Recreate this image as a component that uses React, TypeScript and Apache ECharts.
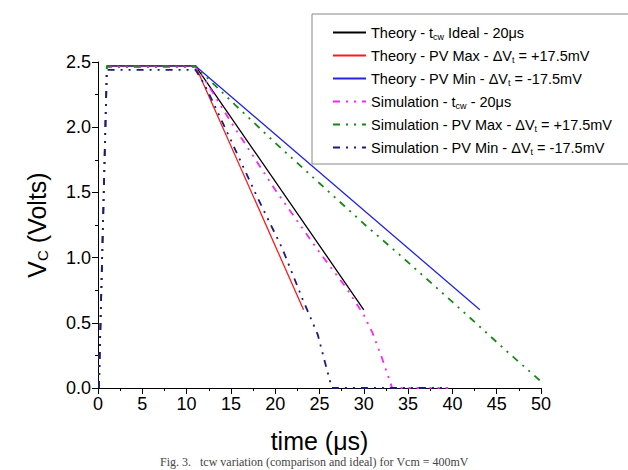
import React, { useEffect, useRef } from "react";
import * as echarts from "echarts";

// ---- data (time in µs, voltage in V) ----
const seriesNames = [
  "Theory - tcw Ideal - 20µs",
  "Theory - PV Max - ΔVt = +17.5mV",
  "Theory - PV Min - ΔVt = -17.5mV",
  "Simulation - tcw - 20µs",
  "Simulation - PV Max - ΔVt = +17.5mV",
  "Simulation - PV Min - ΔVt = -17.5mV",
];
const legendLabels = [
  "Theory - t{sub|cw} Ideal - 20μs",
  "Theory - PV Max - ΔV{sub|t} = +17.5mV",
  "Theory - PV Min - ΔV{sub|t} = -17.5mV",
  "Simulation - t{sub|cw} - 20μs",
  "Simulation - PV Max - ΔV{sub|t} = +17.5mV",
  "Simulation - PV Min - ΔV{sub|t} = -17.5mV",
];
const theoryIdeal = [[1.0, 2.47], [11, 2.47], [30, 0.6]];
const theoryPVMax = [[1.0, 2.47], [11, 2.47], [23.2, 0.6]];
const theoryPVMin = [[1.0, 2.47], [11, 2.47], [43.1, 0.6]];
const simIdeal = [
  [0.1, 0], [1.0, 2.46], [11, 2.46], [12, 2.37], [15, 2.04], [20, 1.52],
  [25, 1.04], [28, 0.77], [30, 0.56], [31, 0.42], [32, 0.24], [33.2, 0], [39.5, 0],
];
const simPVMax = [
  [0.1, 0], [1.0, 2.47], [11, 2.47], [12.3, 2.38], [15.5, 2.17], [20, 1.88],
  [25, 1.57], [30, 1.26], [34.4, 1.0], [40, 0.66], [43.1, 0.47], [46, 0.29], [50, 0.05],
];
const simPVMin = [
  [0.1, 0], [1.0, 2.44], [11, 2.44], [12, 2.33], [13, 2.19], [15, 1.9], [18, 1.46],
  [20.8, 1.07], [23.1, 0.68], [24.8, 0.41], [25.8, 0.15], [26.4, 0], [39.5, 0],
];
const seriesData = [theoryIdeal, theoryPVMax, theoryPVMin, simIdeal, simPVMax, simPVMin];
const seriesColors = ["#000000", "#ff1a1a", "#2424e6", "#ff22ff", "#138a13", "#1a1a80"];
const xMin = 0, xMax = 50, xStep = 5;
const yMin = 0, yMax = 2.5, yStep = 0.5;
const captionText = "Fig. 3.   tcw variation (comparison and ideal) for Vcm = 400mV";

const FONT = 'Arial, "Liberation Sans", sans-serif';

export default function App() {
  const ref = useRef<HTMLDivElement>(null);
  useEffect(() => {
    if (!ref.current) return;
    const chart = echarts.init(ref.current, undefined, { renderer: "svg" });
    const dash = [7, 6, 2, 6, 2, 6];
    const labelMap: Record<string, string> = {};
    seriesNames.forEach((n, i) => (labelMap[n] = legendLabels[i]));
    chart.setOption({
      animation: false,
      backgroundColor: "#ffffff",
      grid: { left: 98, right: 87, top: 62, bottom: 82 },
      legend: {
        orient: "vertical",
        left: 312,
        top: 14,
        padding: [11, 17, 8, 20],
        itemWidth: 33,
        itemHeight: 14,
        itemGap: 7,
        borderColor: "#888888",
        borderWidth: 1,
        backgroundColor: "#ffffff",
        itemStyle: { opacity: 0 },
        data: seriesNames,
        formatter: (n: string) => labelMap[n],
        textStyle: {
          fontFamily: FONT,
          fontSize: 14.5,
          color: "#000",
          rich: {
            sub: { fontFamily: FONT, fontSize: 9, color: "#000", padding: [8, 0, 0, 0] },
          },
        },
      },
      xAxis: {
        type: "value",
        min: xMin,
        max: xMax,
        interval: xStep,
        name: "time (μs)",
        nameLocation: "middle",
        nameGap: 40,
        nameTextStyle: { fontFamily: FONT, fontSize: 25, color: "#000" },
        axisLine: { onZero: false, lineStyle: { color: "#000", width: 1 } },
        axisTick: { length: 6, lineStyle: { color: "#000" } },
        minorTick: { show: true, splitNumber: 2, length: 3, lineStyle: { color: "#000" } },
        splitLine: { show: false },
        axisLabel: { fontFamily: FONT, fontSize: 18, color: "#000", margin: 7 },
      },
      yAxis: {
        type: "value",
        min: yMin,
        max: yMax,
        interval: yStep,
        name: "V{sub|C} (Volts)",
        nameLocation: "middle",
        nameGap: 48,
        nameTextStyle: {
          fontFamily: FONT,
          fontSize: 25,
          color: "#000",
          rich: { sub: { fontFamily: FONT, fontSize: 15, color: "#000", padding: [12, 0, 0, 0] } },
        },
        axisLine: { show: true, lineStyle: { color: "#000", width: 1 } },
        axisTick: { length: 6, lineStyle: { color: "#000" } },
        minorTick: { show: true, splitNumber: 2, length: 3, lineStyle: { color: "#000" } },
        splitLine: { show: false },
        axisLabel: {
          fontFamily: FONT,
          fontSize: 18,
          color: "#000",
          margin: 7,
          formatter: (v: number) => v.toFixed(1),
        },
      },
      graphic: [
        {
          type: "text",
          left: 160,
          top: 456,
          style: { text: captionText, font: '12px "Liberation Serif", serif', fill: "#444" },
        },
      ],
      series: seriesData.map((d, i) => ({
        name: seriesNames[i],
        type: "line",
        data: d,
        symbol: "none",
        showSymbol: false,
        smooth: false,
        color: seriesColors[i],
        lineStyle: {
          color: seriesColors[i],
          width: i < 3 ? 1.3 : 1.8,
          type: i < 3 ? "solid" : dash,
        },
      })),
    });
    return () => chart.dispose();
  }, []);
  return (
    <div
      ref={ref}
      style={{ position: "fixed", left: 0, top: 0, width: 628, height: 470 }}
    />
  );
}
